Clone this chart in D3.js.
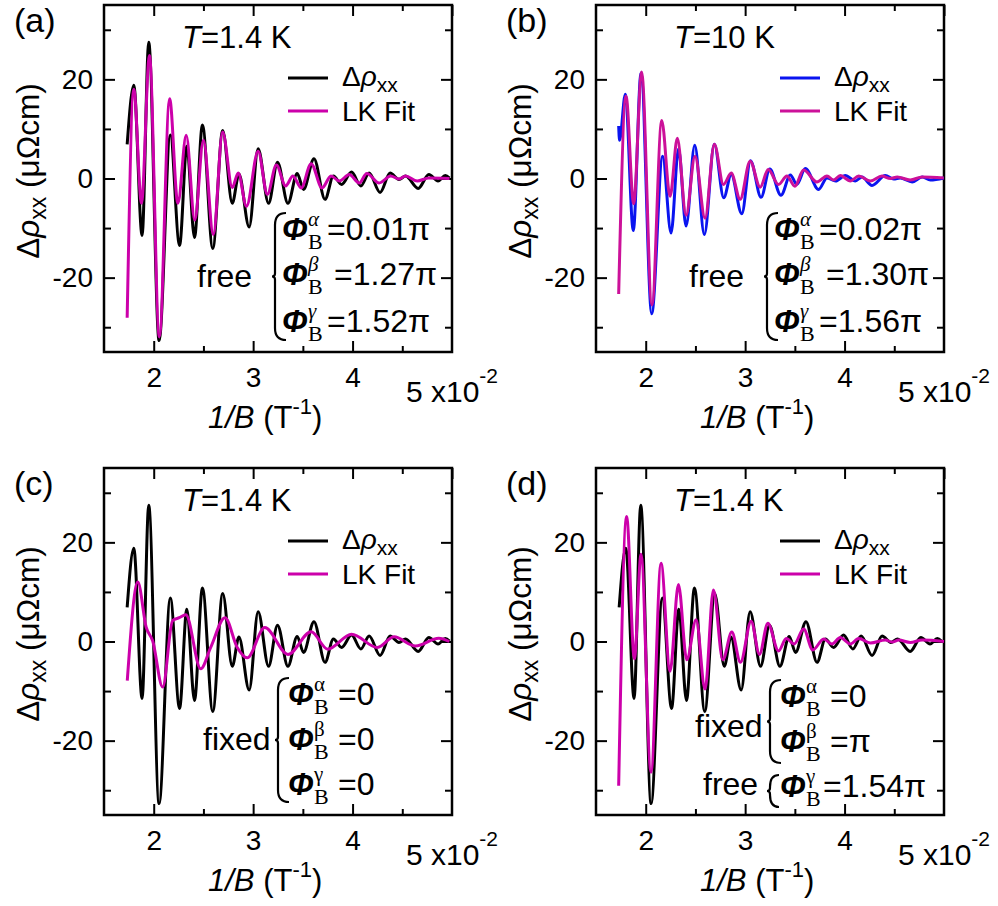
<!DOCTYPE html>
<html><head><meta charset="utf-8">
<script src="https://cdn.jsdelivr.net/npm/d3@7"></script>
<style>body{margin:0;background:#fff}svg{display:block}</style>
</head><body>
<svg id="chart" width="998" height="906"></svg>
<script>
// ---------------- data (x in units of 1e-2 T^-1, y in µΩcm) ----------------
const xMajor = [2, 3, 4, 5];
const xMinor = [2.5, 3.5, 4.5];
const xTickLabels = ["2", "3", "4"];
const yMajor = [-20, 0, 20];
const yMinor = [-30, -10, 10, 30];
const yTickLabels = ["-20", "0", "20"];

// Δρxx at T = 1.4 K (panels a, c, d)
const rho14K_x = [1.733,1.80,1.883,1.95,2.054,2.167,2.26,2.333,2.41,2.49,2.594,2.694,2.79,2.857,2.96,3.05,3.155,3.245,3.35,3.443,3.507,3.612,3.723,3.807,3.89,3.99,4.083,4.167,4.277,4.377,4.467,4.533,4.66,4.767,4.86,4.933,4.975];
const rho14K_y = [6.9,18.8,-11.5,27.5,-32.7,8.8,-13.5,6.5,-11.9,10.8,-14.1,9.7,-5.0,0.9,-9.8,6.0,-5.0,3.3,-5.0,1.0,-2.2,4.0,-4.2,0.5,-1.2,1.3,-1.5,1.1,-2.8,1.1,-0.2,0.5,-2.0,0.8,-0.5,0.6,0.1];

// Δρxx at T = 10 K (panel b)
const rho10K_x = [1.728,1.737,1.795,1.875,1.953,2.06,2.17,2.255,2.33,2.406,2.493,2.59,2.69,2.785,2.86,2.966,3.054,3.16,3.248,3.36,3.455,3.52,3.605,3.739,3.823,3.91,4.007,4.108,4.175,4.276,4.41,4.494,4.56,4.68,4.78,4.863,4.998];
const rho10K_y = [10.6,7.7,17.0,-10.5,21.3,-27.3,4.5,-11.0,6.0,-9.6,6.7,-11.3,6.9,-3.9,0.8,-7.1,3.6,-3.8,1.9,-3.4,0.7,-1.2,2.0,-2.2,0.1,-0.5,0.6,-0.5,0.3,-1.4,0.6,-0.1,0.1,-0.7,0.3,-0.3,0.1];

// LK fits
const fitA_x = [1.733,1.80,1.877,1.957,2.057,2.16,2.243,2.327,2.413,2.50,2.60,2.693,2.79,2.85,2.933,3.05,3.143,3.233,3.327,3.40,3.483,3.583,3.693,3.783,3.867,3.967,4.067,4.143,4.267,4.383,4.467,4.533,4.65,4.767,4.975];
const fitA_y = [-28.1,18.0,-5.0,24.8,-31.9,16.1,-5.0,8.7,-8.4,7.7,-11.3,9.4,-1.8,1.1,-5.6,5.5,-3.2,2.7,-1.5,0.5,-1.9,3.0,-1.9,0.5,-0.5,0.8,-0.9,1.0,-0.9,0.5,-0.1,0.5,-0.5,0.1,0.0];

const fitB_x = [1.728,1.802,1.879,1.959,2.063,2.161,2.245,2.318,2.406,2.496,2.597,2.69,2.782,2.86,2.95,3.05,3.151,3.232,3.336,3.42,3.50,3.588,3.722,3.823,3.89,3.957,4.058,4.142,4.26,4.376,4.46,4.53,4.66,4.78,4.998];
const fitB_y = [-23.3,16.6,-5.1,21.5,-25.5,11.7,-3.6,8.1,-7.4,4.5,-8.0,6.9,-1.2,1.1,-4.2,3.5,-1.75,1.8,-1.2,0.5,-1.55,1.7,-0.7,0.5,-0.3,0.6,-0.5,0.5,-0.5,0.5,0.0,0.3,-0.3,0.3,0.1];

const fitC_x = [1.734,1.84,1.924,1.99,2.09,2.19,2.257,2.323,2.473,2.573,2.717,2.84,2.94,3.117,3.35,3.583,3.75,3.99,4.25,4.417,4.633,4.867,4.973];
const fitC_y = [-7.9,12.0,2.9,0.1,-9.2,4.2,4.8,5.4,-5.5,-1.2,4.8,-1.2,-3.3,2.8,-2.6,1.95,-1.55,1.47,-1.2,0.94,-0.9,0.67,0.0];

const fitD_x = [1.728,1.808,1.886,1.953,2.053,2.154,2.245,2.329,2.413,2.507,2.597,2.681,2.775,2.866,2.953,3.06,3.144,3.228,3.336,3.413,3.494,3.588,3.68,3.79,3.873,3.957,4.058,4.142,4.26,4.41,4.477,4.545,4.66,4.78,5.0];
const fitD_y = [-29.1,25.2,-3.5,17.6,-26.4,15.8,-6.0,11.5,-3.7,4.4,-9.6,10.4,-3.7,1.9,-4.2,4.1,-2.6,3.7,-1.9,0.6,-0.5,2.5,-1.7,0.5,-0.5,0.8,-0.5,0.6,-0.3,0.3,-0.1,0.3,-0.2,0.3,0.0];

const panelLetters = ["(a)", "(b)", "(c)", "(d)"];
const temps = ["1.4 K", "10 K", "1.4 K", "1.4 K"];
const legendNames = ["LK Fit"];

// ---------------- drawing ----------------
const FONT = "'Liberation Sans', Arial, Helvetica, sans-serif";
const SERIF = "'Liberation Serif', 'Times New Roman', serif";
const FS = 28;
const BLACK = "#000000", MAG = "#CC00AA", MAG_B = "#CC1199", BLUE = "#0a14f0";

const svg = d3.select("#chart");
const PW = 348, PH = 347;

const panels = [
  {L:104, T:5,   dataX:rho14K_x, dataY:rho14K_y, dataColor:BLACK, fitX:fitA_x, fitY:fitA_y, fitColor:MAG},
  {L:596, T:5,   dataX:rho10K_x, dataY:rho10K_y, dataColor:BLUE,  fitX:fitB_x, fitY:fitB_y, fitColor:MAG_B},
  {L:104, T:468, dataX:rho14K_x, dataY:rho14K_y, dataColor:BLACK, fitX:fitC_x, fitY:fitC_y, fitColor:MAG},
  {L:596, T:468, dataX:rho14K_x, dataY:rho14K_y, dataColor:BLACK, fitX:fitD_x, fitY:fitD_y, fitColor:MAG}
];

function richText(g, x, y, parts, attrs) {
  const t = g.append("text").attr("x", x).attr("y", y)
    .attr("font-family", FONT).attr("font-size", FS).attr("fill", "#000");
  if (attrs) Object.entries(attrs).forEach(([k, v]) => t.attr(k, v));
  parts.forEach(p => {
    const s = t.append("tspan").text(p.t);
    if (p.style) s.attr("font-style", p.style);
    if (p.weight) s.attr("font-weight", p.weight);
    if (p.size) s.attr("font-size", p.size);
    if (p.family) s.attr("font-family", p.family);
    if (p.dy !== undefined) s.attr("dy", p.dy);
    if (p.dx !== undefined) s.attr("dx", p.dx);
    if (p.x !== undefined) s.attr("x", p.x);
    if (p.y !== undefined) s.attr("y", p.y);
  });
  return t;
}

// one text element per annotation row: Φ, subscript B, superscript greek, value
function phiRow(g, x, base, greek, greekItalic, valX, val) {
  richText(g, x, base, [
    {t: "Φ", style: "italic", weight: "bold", size: 31},
    {t: "B", family: SERIF, size: 22, x: x + 26, y: base + 9},
    {t: greek, family: SERIF, size: 21, style: greekItalic ? "italic" : "normal", x: x + 26, y: base - 14},
    {t: val, size: 32, x: valX, y: base}
  ]);
}

function brace(g, xv, xr, top, bot) {
  const mid = (top + bot) / 2;
  const p = d3.path();
  p.moveTo(xr, top);
  p.quadraticCurveTo(xv, top, xv, top + 12);
  p.lineTo(xv, mid - 3);
  p.quadraticCurveTo(xv, mid, xv - 3, mid);
  p.quadraticCurveTo(xv, mid, xv, mid + 3);
  p.lineTo(xv, bot - 12);
  p.quadraticCurveTo(xv, bot, xr, bot);
  g.append("path").attr("d", p.toString()).attr("fill", "none")
    .attr("stroke", "#000").attr("stroke-width", 2.2);
}

panels.forEach((P, i) => {
  const g = svg.append("g").attr("transform", `translate(${P.L},${P.T})`);
  const x = d3.scaleLinear().domain([1.5, 5.0]).range([0, PW]);
  const y = d3.scaleLinear().domain([-35, 35]).range([PH, 0]);

  // ticks (inward, mirrored)
  const mk = (axis, tr) => {
    const a = g.append("g").attr("transform", tr).call(axis);
    a.select(".domain").remove();
    a.selectAll("line").attr("stroke", "#000").attr("stroke-width", 2);
    a.selectAll("text").attr("font-family", FONT).attr("font-size", FS).attr("fill", "#000");
    return a;
  };
  mk(d3.axisBottom(x).tickValues([2,3,4]).tickSizeInner(-11).tickSizeOuter(0).tickPadding(15)
       .tickFormat((d, k) => xTickLabels[k]), `translate(0,${PH})`);
  mk(d3.axisBottom(x).tickValues(xMinor).tickSizeInner(-6).tickSizeOuter(0).tickFormat(""), `translate(0,${PH})`);
  mk(d3.axisTop(x).tickValues(xMajor).tickSizeInner(-11).tickSizeOuter(0).tickFormat(""), `translate(0,0)`);
  mk(d3.axisTop(x).tickValues(xMinor).tickSizeInner(-6).tickSizeOuter(0).tickFormat(""), `translate(0,0)`);
  mk(d3.axisLeft(y).tickValues(yMajor).tickSizeInner(-11).tickSizeOuter(0).tickPadding(11)
       .tickFormat((d, k) => yTickLabels[k]), `translate(0,0)`);
  mk(d3.axisLeft(y).tickValues(yMinor).tickSizeInner(-7).tickSizeOuter(0).tickFormat(""), `translate(0,0)`);
  mk(d3.axisRight(y).tickValues(yMajor).tickSizeInner(-11).tickSizeOuter(0).tickFormat(""), `translate(${PW},0)`);
  mk(d3.axisRight(y).tickValues(yMinor).tickSizeInner(-7).tickSizeOuter(0).tickFormat(""), `translate(${PW},0)`);

  // "5 x10^-2" at the x = 5 tick
  richText(g, x(5), PH + 50, [{t: "5 x10"}, {t: "-2", size: 21, dy: -19}],
           {"text-anchor": "middle", "font-size": 30});

  // frame
  g.append("rect").attr("x", 0).attr("y", 0).attr("width", PW).attr("height", PH)
    .attr("fill", "none").attr("stroke", "#000").attr("stroke-width", 2.5);

  // curves
  const line = d3.line().x(d => x(d[0])).y(d => y(d[1])).curve(d3.curveMonotoneX);
  g.append("path").datum(d3.zip(P.dataX, P.dataY)).attr("d", line)
    .attr("fill", "none").attr("stroke", P.dataColor).attr("stroke-width", 3).attr("stroke-linejoin", "round");
  g.append("path").datum(d3.zip(P.fitX, P.fitY)).attr("d", line)
    .attr("fill", "none").attr("stroke", P.fitColor).attr("stroke-width", 3).attr("stroke-linejoin", "round");

  // axis titles
  richText(g, 104, PH + 76, [
    {t: "1/B", style: "italic"}, {t: " (T"}, {t: "-1", size: 22, dy: -14}, {t: ")", dy: 14}
  ], {"font-size": 31});
  richText(g, 0, 0, [
    {t: "Δ"}, {t: "ρ", style: "italic"}, {t: "xx", size: 23, dy: 7}, {t: " (μΩcm)", dy: -7}
  ], {"text-anchor": "middle", "font-size": 31.5, transform: `translate(-65,${166}) rotate(-90)`});

  // panel letter & temperature
  richText(g, -90, 27, [{t: panelLetters[i]}], {"font-size": 34});
  richText(g, 78, 43, [{t: "T", style: "italic"}, {t: "=" + temps[i]}], {"font-size": 31});

  // legend
  const legY1 = 73, legY2 = 106;
  g.append("line").attr("x1", 184).attr("x2", 224).attr("y1", legY1).attr("y2", legY1)
    .attr("stroke", P.dataColor).attr("stroke-width", 3);
  g.append("line").attr("x1", 184).attr("x2", 224).attr("y1", legY2).attr("y2", legY2)
    .attr("stroke", P.fitColor).attr("stroke-width", 3);
  richText(g, 238, 81, [{t: "Δ"}, {t: "ρ", style: "italic"}, {t: "xx", size: 21, dy: 6}]);
  richText(g, 238, 116, [{t: legendNames[0]}]);

  // phase annotations
  if (i === 0 || i === 1) {
    const vals = i === 0 ? ["=0.01π", "=1.27π", "=1.52π"] : ["=0.02π", "=1.30π", "=1.56π"];
    brace(g, 171, 182, 208, 335);
    richText(g, 93, 282, [{t: "free"}], {"font-size": 32});
    phiRow(g, 178, 235, "α", true, 223, vals[0]);
    phiRow(g, 178, 280, "β", true, 230, vals[1]);
    phiRow(g, 178, 327, "γ", true, 223, vals[2]);
  } else if (i === 2) {
    brace(g, 174, 185, 210, 334);
    richText(g, 99, 282, [{t: "fixed"}], {"font-size": 32});
    phiRow(g, 184, 237, "α", false, 234, "=0");
    phiRow(g, 184, 282, "β", false, 234, "=0");
    phiRow(g, 184, 327, "γ", false, 234, "=0");
  } else {
    brace(g, 174, 185, 212, 295);
    brace(g, 174, 183, 307, 339);
    richText(g, 99, 269, [{t: "fixed"}], {"font-size": 32});
    richText(g, 107, 327, [{t: "free"}], {"font-size": 32});
    phiRow(g, 184, 239, "α", false, 234, "=0");
    phiRow(g, 184, 284, "β", false, 234, "=π");
    phiRow(g, 184, 329, "γ", false, 227, "=1.54π");
  }
});
</script>
</body></html>
